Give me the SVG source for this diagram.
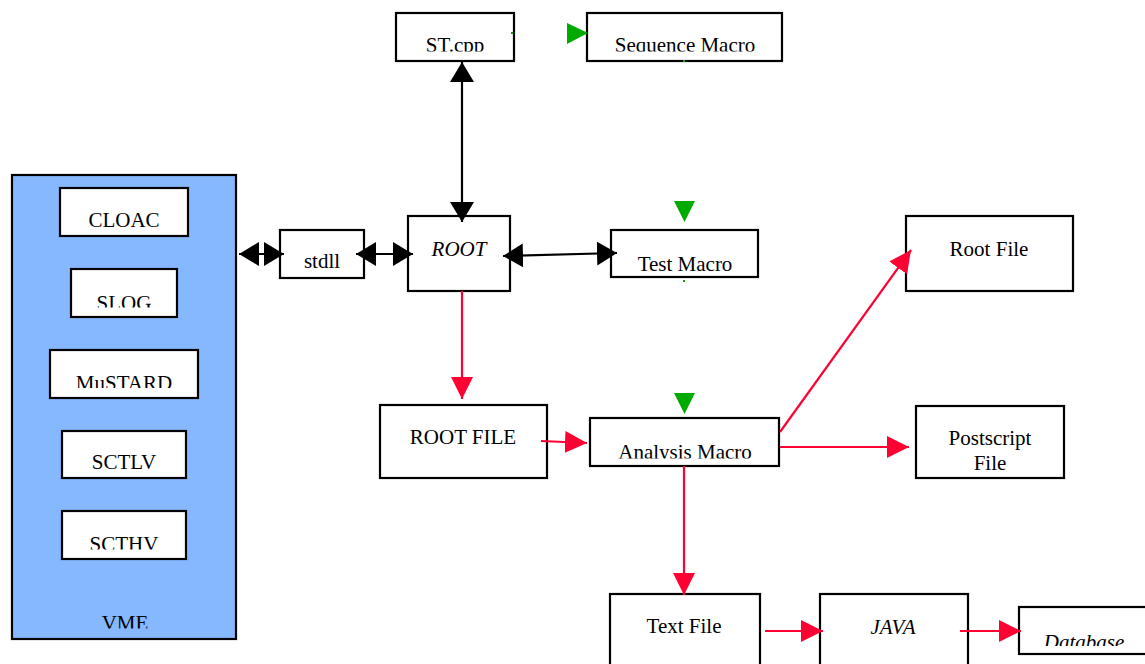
<svg xmlns="http://www.w3.org/2000/svg" width="1145" height="664" viewBox="0 0 1145 664">
<style>
.box{fill:#ffffff;stroke:#000000;stroke-width:2.2}
.vme{fill:#85b8ff;stroke:#000000;stroke-width:2.2}
text{font-family:"Liberation Serif","Times New Roman",serif;font-size:21px;fill:#000000;text-anchor:middle}
.it{font-style:italic}
.blk{stroke:#000000;stroke-width:2.2;fill:none}
.red{stroke:#ff0033;stroke-width:2.2;fill:none}
.g{fill:#00aa00}
</style>
<defs>
<marker id="ab" markerUnits="userSpaceOnUse" markerWidth="20" markerHeight="24" refX="20" refY="12" orient="auto-start-reverse" viewBox="0 0 20 24"><path d="M0,0 L20,12 L0,24 z" fill="#000000"/></marker>
<marker id="ar" markerUnits="userSpaceOnUse" markerWidth="22" markerHeight="22" refX="22" refY="11" orient="auto" viewBox="0 0 22 22"><path d="M0,0 L22,11 L0,22 z" fill="#ff0033"/></marker>
<clipPath id="c1"><rect x="0" y="0" width="1145" height="51.5"/></clipPath>
<clipPath id="c2"><rect x="0" y="0" width="1145" height="271"/></clipPath>
<clipPath id="c3"><rect x="0" y="0" width="1145" height="458.5"/></clipPath>
<clipPath id="c4"><rect x="0" y="0" width="1145" height="646"/></clipPath>
<clipPath id="c5"><rect x="0" y="0" width="1145" height="307.5"/></clipPath>
<clipPath id="c6"><rect x="0" y="0" width="1145" height="388"/></clipPath>
<clipPath id="c7"><rect x="0" y="0" width="1145" height="549.5"/></clipPath>
<clipPath id="c8"><rect x="0" y="0" width="1145" height="628.5"/></clipPath>
</defs>

<g id="vme">
<rect class="vme" x="12" y="175" width="224" height="464"/>
<text x="125" y="630" clip-path="url(#c8)">VME</text>
</g>
<g id="cloac"><rect class="box" x="60" y="188" width="128" height="48"/><text x="124" y="227">CLOAC</text></g>
<g id="slog"><rect class="box" x="71" y="269" width="106" height="48"/><text x="124" y="310" clip-path="url(#c5)">SLOG</text></g>
<g id="mustard"><rect class="box" x="50" y="350" width="148" height="48"/><text x="124" y="390" clip-path="url(#c6)">MuSTARD</text></g>
<g id="sctlv"><rect class="box" x="62" y="431" width="124" height="47"/><text x="124" y="469">SCTLV</text></g>
<g id="scthv"><rect class="box" x="62" y="511" width="124" height="48"/><text x="124" y="551" clip-path="url(#c7)">SCTHV</text></g>

<g id="stcpp"><rect class="box" x="396" y="13" width="118" height="48"/><text x="455" y="52" clip-path="url(#c1)">ST.cpp</text></g>
<g id="seqmacro"><rect class="box" x="587" y="13" width="195" height="48"/><text x="685" y="52" clip-path="url(#c1)">Sequence Macro</text></g>
<g id="stdll"><rect class="box" x="280" y="230" width="84" height="48"/><text x="322" y="268">stdll</text></g>
<g id="root"><rect class="box" x="408" y="216" width="102" height="75"/><text class="it" x="459" y="256">ROOT</text></g>
<g id="testmacro"><rect class="box" x="611" y="230" width="147" height="47"/><text x="685" y="271" clip-path="url(#c2)">Test Macro</text></g>
<g id="rootfile2"><rect class="box" x="906" y="216" width="167" height="75"/><text x="989" y="256">Root File</text></g>
<g id="rootfile"><rect class="box" x="380" y="405" width="167" height="73"/><text x="463" y="444">ROOT FILE</text></g>
<g id="analysis"><rect class="box" x="590" y="418" width="189" height="48"/><text x="685" y="459" clip-path="url(#c3)">Analysis Macro</text></g>
<g id="postscript"><rect class="box" x="916" y="406" width="148" height="72"/><text x="990" y="445">Postscript</text><text x="990" y="470">File</text></g>
<g id="textfile"><rect class="box" x="610" y="594" width="150" height="80"/><text x="684" y="633">Text File</text></g>
<g id="java"><rect class="box" x="820" y="594" width="148" height="80"/><text class="it" x="893" y="634">JAVA</text></g>
<g id="database"><rect class="box" x="1019" y="607" width="140" height="47"/><text class="it" x="1084" y="649" clip-path="url(#c4)">Database</text></g>

<g id="connectors">
<line class="blk" x1="239" y1="254" x2="284" y2="254" marker-start="url(#ab)" marker-end="url(#ab)"/>
<line class="blk" x1="356" y1="254" x2="413" y2="254" marker-start="url(#ab)" marker-end="url(#ab)"/>
<line class="blk" x1="503" y1="256" x2="617" y2="253" marker-start="url(#ab)" marker-end="url(#ab)"/>
<line class="blk" x1="462" y1="62" x2="462" y2="222" marker-start="url(#ab)" marker-end="url(#ab)"/>
<line class="red" x1="462" y1="291" x2="462" y2="399" marker-end="url(#ar)"/>
<line class="red" x1="541" y1="441" x2="587" y2="443" marker-end="url(#ar)"/>
<line class="red" x1="780" y1="432" x2="911" y2="250" marker-end="url(#ar)"/>
<line class="red" x1="780" y1="447" x2="909" y2="447" marker-end="url(#ar)"/>
<line class="red" x1="684" y1="466" x2="684" y2="595" marker-end="url(#ar)"/>
<line class="red" x1="765" y1="631" x2="823" y2="631" marker-end="url(#ar)"/>
<line class="red" x1="960" y1="631" x2="1021" y2="631" marker-end="url(#ar)"/>
<polygon class="g" points="567,23 588,33 567,44"/>
<polygon class="g" points="674,201 695,201 684.5,222"/>
<polygon class="g" points="674,393 695,393 684.5,414"/>
<rect class="g" x="511" y="32" width="2" height="2"/>
<rect class="g" x="683" y="60" width="2" height="2"/>
<rect class="g" x="683" y="280" width="2" height="2"/>
</g>
</svg>
